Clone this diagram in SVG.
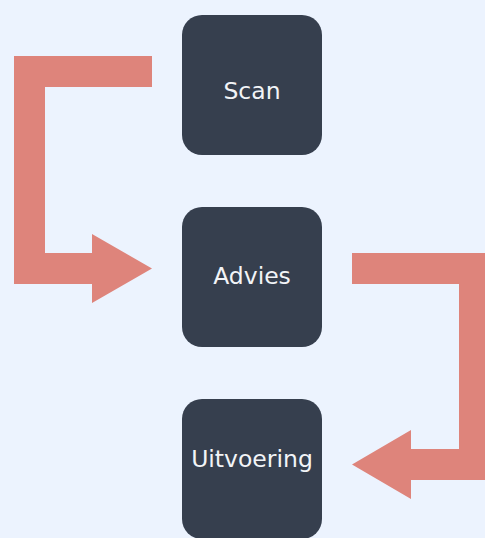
<svg xmlns="http://www.w3.org/2000/svg" width="485" height="538" viewBox="0 0 485 538">
<style>
.bg{fill:#ECF3FE}
.box{fill:#363F4E}
.lbl{fill:#F2F4F7;font-family:"DejaVu Sans",Verdana,sans-serif;font-size:23.5px;text-anchor:middle}
.arr{fill:#DE847B}
</style>
<rect class="bg" x="0" y="0" width="485" height="538"/>
<g id="connectors">
<path class="arr" d="M152,56 H14 V284 H92 V303 L152,268.5 L92,234 V253 H45 V87 H152 Z"/>
<path class="arr" d="M352,253 H490 V480 H411 V499 L352,464.5 L411,430 V449 H459 V284 H352 Z"/>
</g>
<g id="scan">
<rect class="box" x="182" y="15" width="140" height="140" rx="20"/>
<text class="lbl" x="252" y="99">Scan</text>
</g>
<g id="advies">
<rect class="box" x="182" y="207" width="140" height="140" rx="20"/>
<text class="lbl" x="252" y="284">Advies</text>
</g>
<g id="uitvoering">
<rect class="box" x="182" y="399" width="140" height="140" rx="20"/>
<text class="lbl" x="252" y="467">Uitvoering</text>
</g>
</svg>
